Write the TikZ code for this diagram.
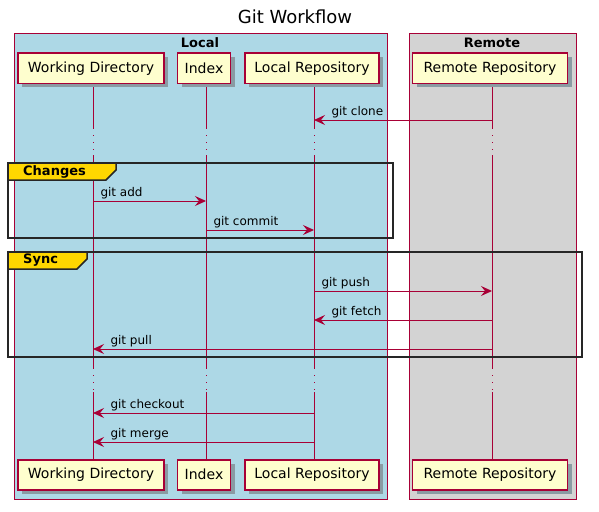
\documentclass[tikz,border=0pt]{standalone}
\usepackage{fontspec}
\setmainfont{DejaVu Sans}
\usetikzlibrary{arrows.meta, positioning}

\definecolor{plumred}{HTML}{A80036}
\definecolor{partfill}{HTML}{FEFECE}
\definecolor{localblue}{HTML}{ADD8E6}
\definecolor{remotegray}{HTML}{D3D3D3}
\definecolor{groupgold}{HTML}{FFD700}
\definecolor{shadowgray}{HTML}{8A9BA3}

\begin{document}
\begin{tikzpicture}[x=1pt, y=1pt, >={Stealth[length=11pt, width=10pt, inset=4pt]},
  participant/.style={draw=plumred, line width=1.5pt, fill=partfill, minimum height=30pt, inner sep=0pt, xshift=-2pt, font=\fontsize{14}{16}\selectfont, preaction={fill=shadowgray, draw=none, transform canvas={shift={(4pt,-4pt)}}}},
  lane/.style={draw=plumred, line width=1pt},
  lanetitle/.style={font=\bfseries\fontsize{13}{15}\selectfont},
  life/.style={draw=plumred, line width=1pt},
  lifedots/.style={draw=plumred, line width=1pt, dash pattern=on 1pt off 6pt},
  msg/.style={draw=plumred, line width=1pt, ->},
  msglabel/.style={anchor=base west, inner sep=0pt, text=black, font=\fontsize{12}{14}\selectfont},
  group/.style={draw=black!85, line width=1.5pt},
  grouptab/.style={draw=black!85, line width=1.5pt, fill=groupgold},
  grouplabel/.style={anchor=west, inner sep=0pt, font=\bfseries\fontsize{13}{15}\selectfont}]
	\useasboundingbox (0,0) rectangle (599,-511);
	\node[font=\fontsize{18}{20}\selectfont] (title) at (295,-17) {Git Workflow};

	% boxes
	\draw[lane, fill=localblue] (14,-34) rectangle (387,-499);
	\draw[lane, fill=remotegray] (409,-34) rectangle (576,-499);
	\node[lanetitle] (localtitle) at (200,-43) {Local};
	\node[lanetitle] (remotetitle) at (492,-43) {Remote};

	% lifeline ends
	\coordinate (wdtop) at (93,-84);
	\coordinate (idxtop) at (206,-84);
	\coordinate (lrtop) at (314,-84);
	\coordinate (rrtop) at (492,-84);
	\coordinate (wdbot) at (93,-459);
	\coordinate (idxbot) at (206,-459);
	\coordinate (lrbot) at (314,-459);
	\coordinate (rrbot) at (492,-459);

	% lifelines
	\draw[life] (wdtop) -- (wdtop |- 0,-128) (wdtop |- 0,-155) -- (wdtop |- 0,-368) (wdtop |- 0,-392) -- (wdbot);
	\draw[life] (idxtop) -- (idxtop |- 0,-128) (idxtop |- 0,-155) -- (idxtop |- 0,-368) (idxtop |- 0,-392) -- (idxbot);
	\draw[life] (lrtop) -- (lrtop |- 0,-128) (lrtop |- 0,-155) -- (lrtop |- 0,-368) (lrtop |- 0,-392) -- (lrbot);
	\draw[life] (rrtop) -- (rrtop |- 0,-128) (rrtop |- 0,-155) -- (rrtop |- 0,-368) (rrtop |- 0,-392) -- (rrbot);
	\draw[lifedots] (wdtop |- 0,-128) -- (wdtop |- 0,-155) (wdtop |- 0,-368) -- (wdtop |- 0,-392);
	\draw[lifedots] (idxtop |- 0,-128) -- (idxtop |- 0,-155) (idxtop |- 0,-368) -- (idxtop |- 0,-392);
	\draw[lifedots] (lrtop |- 0,-128) -- (lrtop |- 0,-155) (lrtop |- 0,-368) -- (lrtop |- 0,-392);
	\draw[lifedots] (rrtop |- 0,-128) -- (rrtop |- 0,-155) (rrtop |- 0,-368) -- (rrtop |- 0,-392);

	% participants
	\node[participant, minimum width=146pt] (wd) [above=0pt of wdtop] {Working Directory};
	\node[participant, minimum width=53pt] (idx) [above=0pt of idxtop] {Index};
	\node[participant, minimum width=134pt] (lr) [above=0pt of lrtop] {Local Repository};
	\node[participant, minimum width=155pt] (rr) [above=0pt of rrtop] {Remote Repository};
	\node[participant, minimum width=146pt] (wdB) [below=0pt of wdbot] {Working Directory};
	\node[participant, minimum width=53pt] (idxB) [below=0pt of idxbot] {Index};
	\node[participant, minimum width=134pt] (lrB) [below=0pt of lrbot] {Local Repository};
	\node[participant, minimum width=155pt] (rrB) [below=0pt of rrbot] {Remote Repository};

	% groups
	\draw[group] (8,-163) rectangle (393,-238);
	\draw[grouptab] (8,-163) -- (116,-163) -- (116,-170) -- (106,-180) -- (8,-180) -- cycle;
	\node[grouplabel] (changes) at (23,-171.5) {Changes};
	\draw[group] (8,-252) rectangle (582,-357);
	\draw[grouptab] (8,-252) -- (87,-252) -- (87,-259) -- (77,-269) -- (8,-269) -- cycle;
	\node[grouplabel] (sync) at (23,-260.5) {Sync};

	% messages
	\draw[msg] (rrtop |- 0,-120) -- (lrtop |- 0,-120) node[msglabel, at end, xshift=17pt, yshift=5pt] (lclone) {git clone};
	\draw[msg] (wdtop |- 0,-201) -- (idxtop |- 0,-201) node[msglabel, at start, xshift=7pt, yshift=5pt] (ladd) {git add};
	\draw[msg] (idxtop |- 0,-230) -- (lrtop |- 0,-230) node[msglabel, at start, xshift=7pt, yshift=5pt] (lcommit) {git commit};
	\draw[msg] (lrtop |- 0,-291) -- (rrtop |- 0,-291) node[msglabel, at start, xshift=7pt, yshift=5pt] (lpush) {git push};
	\draw[msg] (rrtop |- 0,-320) -- (lrtop |- 0,-320) node[msglabel, at end, xshift=17pt, yshift=5pt] (lfetch) {git fetch};
	\draw[msg] (rrtop |- 0,-349) -- (wdtop |- 0,-349) node[msglabel, at end, xshift=17pt, yshift=5pt] (lpull) {git pull};
	\draw[msg] (lrtop |- 0,-413) -- (wdtop |- 0,-413) node[msglabel, at end, xshift=17pt, yshift=5pt] (lcheckout) {git checkout};
	\draw[msg] (lrtop |- 0,-442) -- (wdtop |- 0,-442) node[msglabel, at end, xshift=17pt, yshift=5pt] (lmerge) {git merge};
\end{tikzpicture}
\end{document}
